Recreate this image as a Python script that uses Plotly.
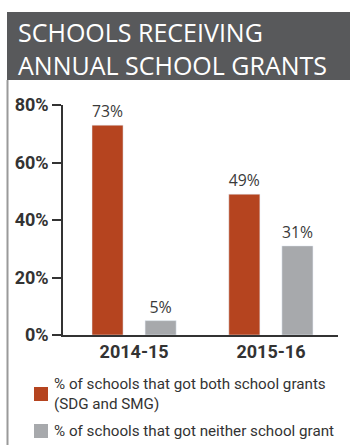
import plotly.graph_objects as go

# Data
years = ["2014-15", "2015-16"]
both_grants = [73, 49]      # % of schools that got both school grants (SDG and SMG)
neither_grant = [5, 31]     # % of schools that got neither school grant
y_ticks = [0, 20, 40, 60, 80]
y_tick_labels = ["0%", "20%", "40%", "60%", "80%"]
series_names = [
    "% of schools that got both school grants<br>(SDG and SMG)",
    "% of schools that got neither school grant",
]
title_text = "SCHOOLS RECEIVING<br>ANNUAL SCHOOL GRANTS"

ORANGE = "#b5441f"
GREY = "#a7a9ac"
DARK = "#333333"
BANNER = "#58595b"

W, H = 350, 445
L, R, T, B = 63, 12, 105, 110
PW, PH = W - L - R, H - T - B


def px(x):
    return (x - L) / PW


def py(y):
    return (H - B - y) / PH


COND = "Roboto, Liberation Sans, sans-serif"
LIGHT = "Open Sans, sans-serif"


def cond_font(size, bold=False):
    f = dict(family=COND, size=size, color=DARK)
    if bold:
        f["weight"] = "bold"
    return f


fig = go.Figure()
fig.add_bar(
    x=years, y=both_grants, name=series_names[0],
    marker_color=ORANGE, width=0.227, offset=-0.308,
    text=[f"{v}%" for v in both_grants], textposition="outside",
    textfont=dict(family=LIGHT, size=16, color="#3a3a3a"),
    cliponaxis=False, showlegend=False,
)
fig.add_bar(
    x=years, y=neither_grant, name=series_names[1],
    marker_color=GREY, width=0.227, offset=0.08,
    text=[f"{v}%" for v in neither_grant], textposition="outside",
    textfont=dict(family=LIGHT, size=16, color="#3a3a3a"),
    cliponaxis=False, showlegend=False,
)

shapes = [
    # header banner
    dict(type="rect", xref="paper", yref="paper",
         x0=px(7), x1=px(352), y0=py(80), y1=py(12),
         fillcolor=BANNER, line_width=0, layer="below"),
    # left frame rule
    dict(type="line", xref="paper", yref="paper",
         x0=px(7.5), x1=px(7.5), y0=py(80), y1=py(447),
         line=dict(color="#9a9a9a", width=2)),
    # legend swatches
    dict(type="rect", xref="paper", yref="paper",
         x0=px(34), x1=px(48), y0=py(401), y1=py(387),
         fillcolor=ORANGE, line_width=0),
    dict(type="rect", xref="paper", yref="paper",
         x0=px(34), x1=px(48), y0=py(438), y1=py(424),
         fillcolor=GREY, line_width=0),
]

annotations = [
    dict(text=title_text, xref="paper", yref="paper", x=px(16), y=py(48.5),
         xanchor="left", yanchor="middle", align="left", showarrow=False,
         font=dict(family=LIGHT, size=25, color="white")),
    dict(text=series_names[0], xref="paper", yref="paper", x=px(52), y=py(394),
         xanchor="left", yanchor="middle", align="left", showarrow=False,
         font=cond_font(15.2)),
    dict(text=series_names[1], xref="paper", yref="paper", x=px(52), y=py(431),
         xanchor="left", yanchor="middle", align="left", showarrow=False,
         font=cond_font(15.2)),
]

fig.update_layout(
    width=W, height=H,
    margin=dict(l=L, r=R, t=T, b=B, pad=0),
    paper_bgcolor="white", plot_bgcolor="white",
    barmode="overlay",
    shapes=shapes, annotations=annotations,
    xaxis=dict(
        type="category", categoryorder="array", categoryarray=years,
        range=[-0.52, 1.49], showgrid=False, zeroline=False,
        showline=True, linecolor=DARK, linewidth=1.5, ticks="",
        tickfont=cond_font(18, bold=True),
        fixedrange=True,
    ),
    yaxis=dict(
        range=[0, 80], tickvals=y_ticks, ticktext=y_tick_labels,
        showgrid=False, zeroline=False,
        showline=True, linecolor=DARK, linewidth=1.5,
        ticks="outside", ticklen=9, tickwidth=1.5, tickcolor=DARK,
        tickfont=cond_font(18, bold=True),
        fixedrange=True,
    ),
)

fig.write_html("out.html", config={"displayModeBar": False})
